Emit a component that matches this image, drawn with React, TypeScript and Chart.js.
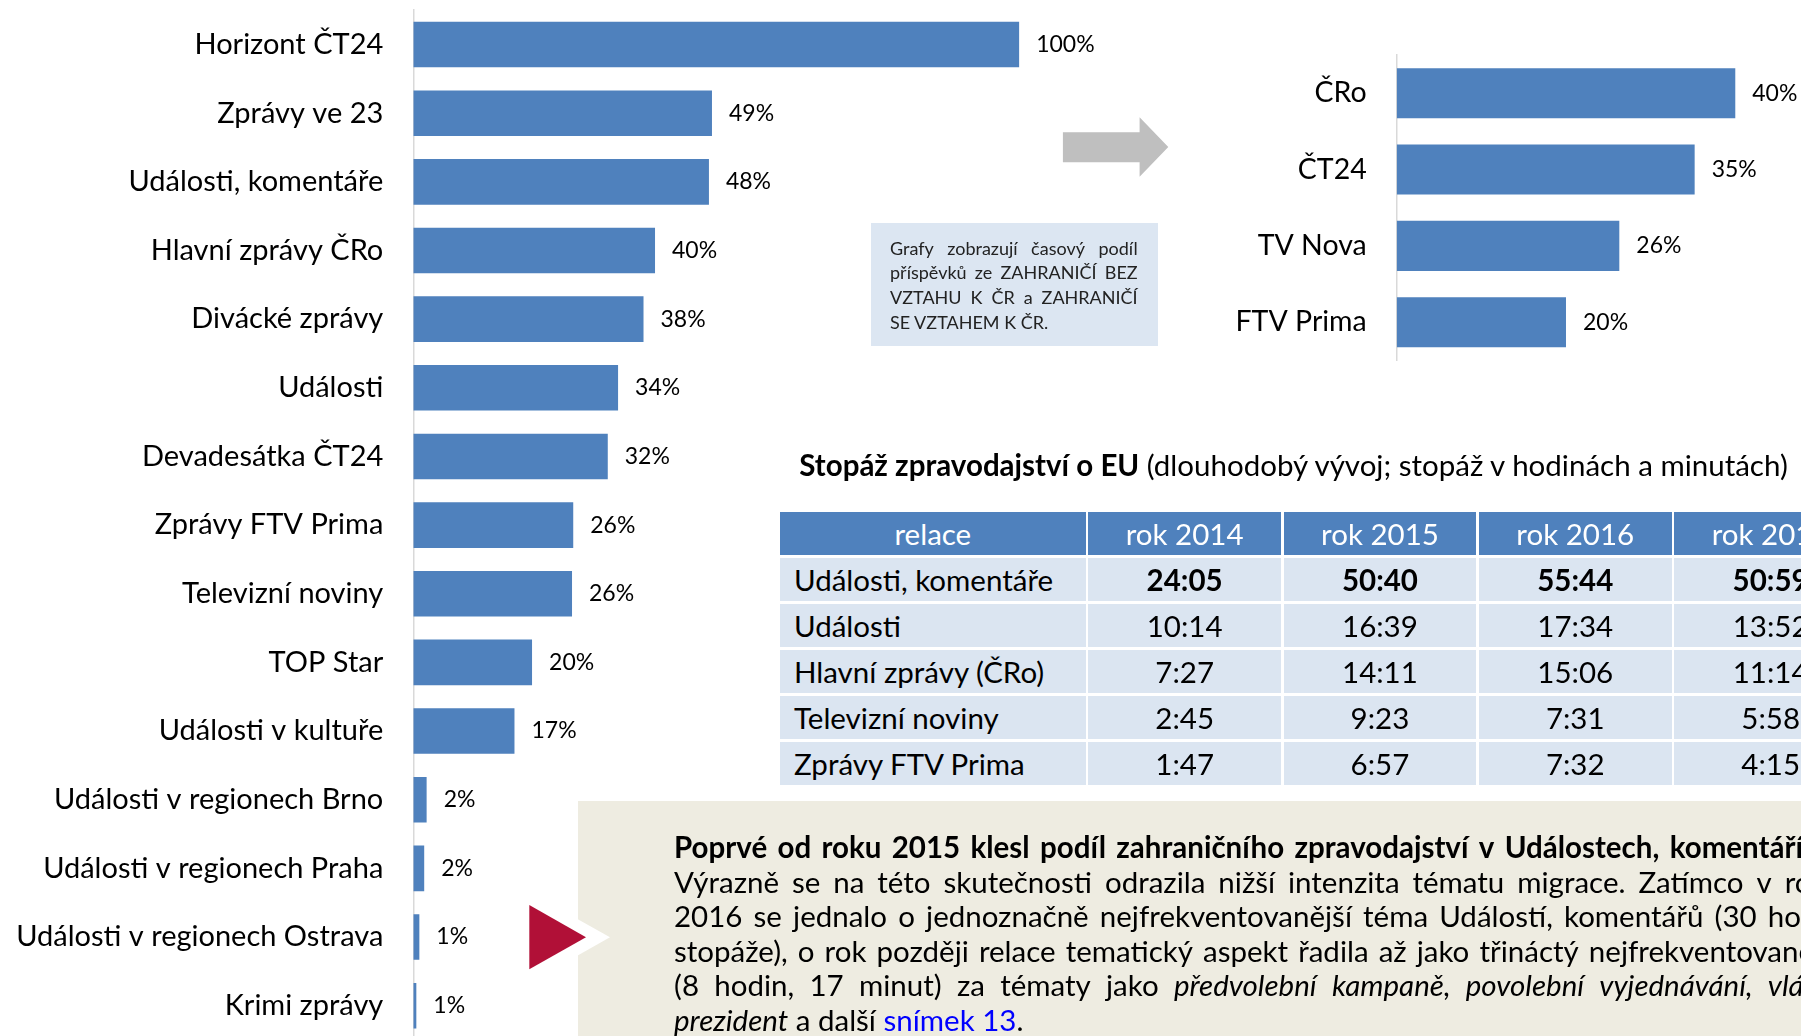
import React, { useEffect, useRef } from "react";
import { Chart, registerables } from "chart.js";

Chart.register(...registerables);

const FONT = "Lato, 'Open Sans', sans-serif";
const BLUE = "#4F81BD";
const TEXT_SIZE = 29.5;

// ---- Left chart data ----
const leftCategories = [
  "Horizont ČT24",
  "Zprávy ve 23",
  "Události, komentáře",
  "Hlavní zprávy ČRo",
  "Divácké zprávy",
  "Události",
  "Devadesátka ČT24",
  "Zprávy FTV Prima",
  "Televizní noviny",
  "TOP Star",
  "Události v kultuře",
  "Události v regionech Brno",
  "Události v regionech Praha",
  "Události v regionech Ostrava",
  "Krimi zprávy",
];
const leftValues = [100, 49.3, 48.8, 39.9, 38.0, 33.8, 32.1, 26.4, 26.2, 19.6, 16.7, 2.2, 1.8, 1.0, 0.5];
const leftValueLabels = ["100%", "49%", "48%", "40%", "38%", "34%", "32%", "26%", "26%", "20%", "17%", "2%", "2%", "1%", "1%"];

// ---- Right chart data ----
const rightCategories = ["ČRo", "ČT24", "TV Nova", "FTV Prima"];
const rightValues = [40.0, 35.2, 26.3, 20.0];
const rightValueLabels = ["40%", "35%", "26%", "20%"];

// ---- Table data ----
const tableHeaders = ["relace", "rok 2014", "rok 2015", "rok 2016", "rok 2017"];
const tableRowNames = ["Události, komentáře", "Události", "Hlavní zprávy (ČRo)", "Televizní noviny", "Zprávy FTV Prima"];
const year2014 = ["24:05", "10:14", "7:27", "2:45", "1:47"];
const year2015 = ["50:40", "16:39", "14:11", "9:23", "6:57"];
const year2016 = ["55:44", "17:34", "15:06", "7:31", "7:32"];
const year2017 = ["50:59", "13:52", "11:14", "5:58", "4:15"];

// ---- Texts ----
const noteLines = [
  "Grafy zobrazují časový podíl",
  "příspěvků ze ZAHRANIČÍ BEZ",
  "VZTAHU K ČR a ZAHRANIČÍ",
  "SE VZTAHEM K ČR.",
];

type Seg = { t: string; b?: boolean; i?: boolean; link?: boolean };
const paraLines: Seg[][] = [
  [{ t: "Poprvé od roku 2015 klesl podíl zahraničního zpravodajství v Událostech, komentářích.", b: true }],
  [{ t: "Výrazně se na této skutečnosti odrazila nižší intenzita tématu migrace. Zatímco v roce" }],
  [{ t: "2016 se jednalo o jednoznačně nejfrekventovanější téma Událostí, komentářů (30 hodin" }],
  [{ t: "stopáže), o rok později relace tematický aspekt řadila až jako třináctý nejfrekventovanější" }],
  [{ t: "(8 hodin, 17 minut) za tématy jako" }, { t: "předvolební kampaně, povolební vyjednávání, vláda,", i: true }],
  [{ t: "prezident", i: true }, { t: " a další " }, { t: "snímek 13", link: true }, { t: "." }],
];

function valueLabelPlugin(labels: string[], size: number) {
  return {
    id: "valueLabels",
    afterDatasetsDraw(chart: any) {
      const ctx = chart.ctx;
      const meta = chart.getDatasetMeta(0);
      ctx.save();
      ctx.font = `${size}px ${FONT}`;
      ctx.fillStyle = "#000";
      ctx.textBaseline = "middle";
      ctx.textAlign = "left";
      meta.data.forEach((bar: any, i: number) => {
        ctx.fillText(labels[i], bar.x + 17, bar.y);
      });
      ctx.restore();
    },
  };
}

type BarProps = {
  categories: string[];
  values: number[];
  labels: string[];
  left: number;
  top: number;
  width: number;
  height: number;
  axisX: number;
  padTop: number;
  padBottom: number;
  xMax: number;
  barPct: number;
  tickSize: number;
  valueSize: number;
};

function BarChart(p: BarProps) {
  const ref = useRef<HTMLCanvasElement>(null);
  useEffect(() => {
    const chart = new Chart(ref.current as HTMLCanvasElement, {
      type: "bar",
      data: {
        labels: p.categories,
        datasets: [
          {
            data: p.values,
            backgroundColor: BLUE,
            borderWidth: 0,
            barPercentage: p.barPct,
            categoryPercentage: 1,
          },
        ],
      },
      options: {
        indexAxis: "y",
        responsive: false,
        animation: false,
        devicePixelRatio: 1,
        layout: { padding: { top: p.padTop, bottom: p.padBottom, left: 0, right: 0 } },
        plugins: { legend: { display: false }, tooltip: { enabled: false } },
        scales: {
          x: { display: false, min: 0, max: p.xMax },
          y: {
            afterFit: (s: any) => {
              s.width = p.axisX;
              s.paddingTop = 0;
              s.paddingBottom = 0;
            },
            grid: { display: false, drawTicks: false },
            border: { display: true, color: "#D9D9D9", width: 1.5 },
            ticks: {
              color: "#000",
              font: { family: FONT, size: p.tickSize },
              padding: 30,
              autoSkip: false,
            },
          },
        },
      } as any,
      plugins: [valueLabelPlugin(p.labels, p.valueSize)],
    });
    return () => chart.destroy();
  }, []);
  return (
    <canvas
      ref={ref}
      width={p.width}
      height={p.height}
      style={{ position: "absolute", left: p.left, top: p.top, width: p.width, height: p.height }}
    />
  );
}

function segStyle(s: Seg): React.CSSProperties {
  return {
    fontWeight: s.b ? 700 : 400,
    fontStyle: s.i ? "italic" : "normal",
    color: s.link ? "#0000FF" : undefined,
    whiteSpace: "pre",
    flexShrink: 0,
  };
}

function JustifiedLine({ segs, left, top, width, lh, size, justify }: { segs: Seg[]; left: number; top: number; width: number; lh: number; size: number; justify: boolean }) {
  if (!justify) {
    return (
      <div style={{ position: "absolute", left, top, height: lh, lineHeight: `${lh}px`, fontSize: size, whiteSpace: "nowrap" }}>
        {segs.map((s, i) => (
          <span key={i} style={segStyle(s)}>
            {s.t}
          </span>
        ))}
      </div>
    );
  }
  const words: { w: string; s: Seg }[] = [];
  segs.forEach((s) => s.t.split(/\s+/).filter((w) => w.length).forEach((w) => words.push({ w, s })));
  return (
    <div
      style={{
        position: "absolute",
        left,
        top,
        width,
        height: lh,
        lineHeight: `${lh}px`,
        fontSize: size,
        display: "flex",
        justifyContent: "space-between",
        columnGap: size * 0.2,
        whiteSpace: "nowrap",
      }}
    >
      {words.map((x, i) => (
        <span key={i} style={segStyle(x.s)}>
          {x.w}
        </span>
      ))}
    </div>
  );
}

function Table() {
  const colLefts = [780, 1088.3, 1283.6, 1478.9, 1674.3];
  const colWidths = [305.7, 192.7, 192.7, 192.7, 192.7];
  const top0 = 511.7;
  const pitch = 46;
  const rowH = 43.6;
  const cols = [tableRowNames, year2014, year2015, year2016, year2017];
  const cells: React.ReactNode[] = [];
  tableHeaders.forEach((h, c) => {
    cells.push(
      <div
        key={`h${c}`}
        style={{
          position: "absolute",
          left: colLefts[c],
          top: top0,
          width: colWidths[c],
          height: rowH,
          background: BLUE,
          color: "#fff",
          display: "flex",
          alignItems: "center",
          justifyContent: "center",
          fontSize: TEXT_SIZE,
          whiteSpace: "nowrap",
        }}
      >
        {h}
      </div>
    );
  });
  tableRowNames.forEach((_, r) => {
    cols.forEach((col, c) => {
      cells.push(
        <div
          key={`c${r}-${c}`}
          style={{
            position: "absolute",
            left: colLefts[c],
            top: top0 + (r + 1) * pitch,
            width: colWidths[c],
            height: rowH,
            background: "#DBE5F1",
            color: "#000",
            display: "flex",
            alignItems: "center",
            justifyContent: c === 0 ? "flex-start" : "center",
            paddingLeft: c === 0 ? 14 : 0,
            boxSizing: "border-box",
            fontSize: TEXT_SIZE,
            fontWeight: r === 0 && c > 0 ? 700 : 400,
            whiteSpace: "nowrap",
          }}
        >
          {col[r]}
        </div>
      );
    });
  });
  return <>{cells}</>;
}

export default function App() {
  return (
    <div
      style={{
        position: "fixed",
        left: 0,
        top: 0,
        width: 1801,
        height: 1036,
        overflow: "hidden",
        background: "#fff",
        fontFamily: FONT,
        color: "#000",
      }}
    >
      <BarChart
        categories={leftCategories}
        values={leftValues}
        labels={leftValueLabels}
        left={0}
        top={0}
        width={1110}
        height={1041}
        axisX={413.3}
        padTop={10.2}
        padBottom={1}
        xMax={115}
        barPct={0.664}
        tickSize={29}
        valueSize={23}
      />
      <BarChart
        categories={rightCategories}
        values={rightValues}
        labels={rightValueLabels}
        left={1180}
        top={0}
        width={623}
        height={361}
        axisX={216.7}
        padTop={55}
        padBottom={0.6}
        xMax={48}
        barPct={0.655}
        tickSize={28.5}
        valueSize={23}
      />

      {/* beige text box */}
      <div style={{ position: "absolute", left: 578, top: 801, width: 1300, height: 300, background: "#EEECE1" }} />

      <svg width={1801} height={1036} style={{ position: "absolute", left: 0, top: 0, pointerEvents: "none" }}>
        <polygon points="560,909.2 610,937.3 560,965.5" fill="#fff" />
        <polygon points="529.3,905 586,937.3 529.3,969.3" fill="#B11037" />
        <polygon
          points="1062.9,132.3 1139.6,132.3 1139.6,117.3 1168.3,147 1139.6,176.7 1139.6,162.3 1062.9,162.3"
          fill="#BFBFBF"
        />
      </svg>

      {/* note box */}
      <div style={{ position: "absolute", left: 870.5, top: 222.7, width: 287.2, height: 123, background: "#DCE6F2" }} />
      {noteLines.map((ln, i) => (
        <div key={i} style={{ color: "#222" }}>
          <JustifiedLine
            segs={[{ t: ln }]}
            left={890}
            top={235.6 + i * 24.8}
            width={247.7}
            lh={24.8}
            size={18}
            justify={i < noteLines.length - 1}
          />
        </div>
      ))}

      {/* table title */}
      <div
        style={{
          position: "absolute",
          left: 799.3,
          top: 446.6,
          fontSize: TEXT_SIZE,
          lineHeight: "35px",
          whiteSpace: "nowrap",
        }}
      >
        <span style={{ fontWeight: 700 }}>Stopáž zpravodajství o EU</span> (dlouhodobý vývoj; stopáž v hodinách a minutách)
      </div>

      <Table />

      {/* paragraph */}
      {paraLines.map((segs, i) => (
        <JustifiedLine
          key={i}
          segs={segs}
          left={674}
          top={830.3 + i * 34.5}
          width={1167}
          lh={34.5}
          size={TEXT_SIZE}
          justify={i < paraLines.length - 1}
        />
      ))}
    </div>
  );
}
